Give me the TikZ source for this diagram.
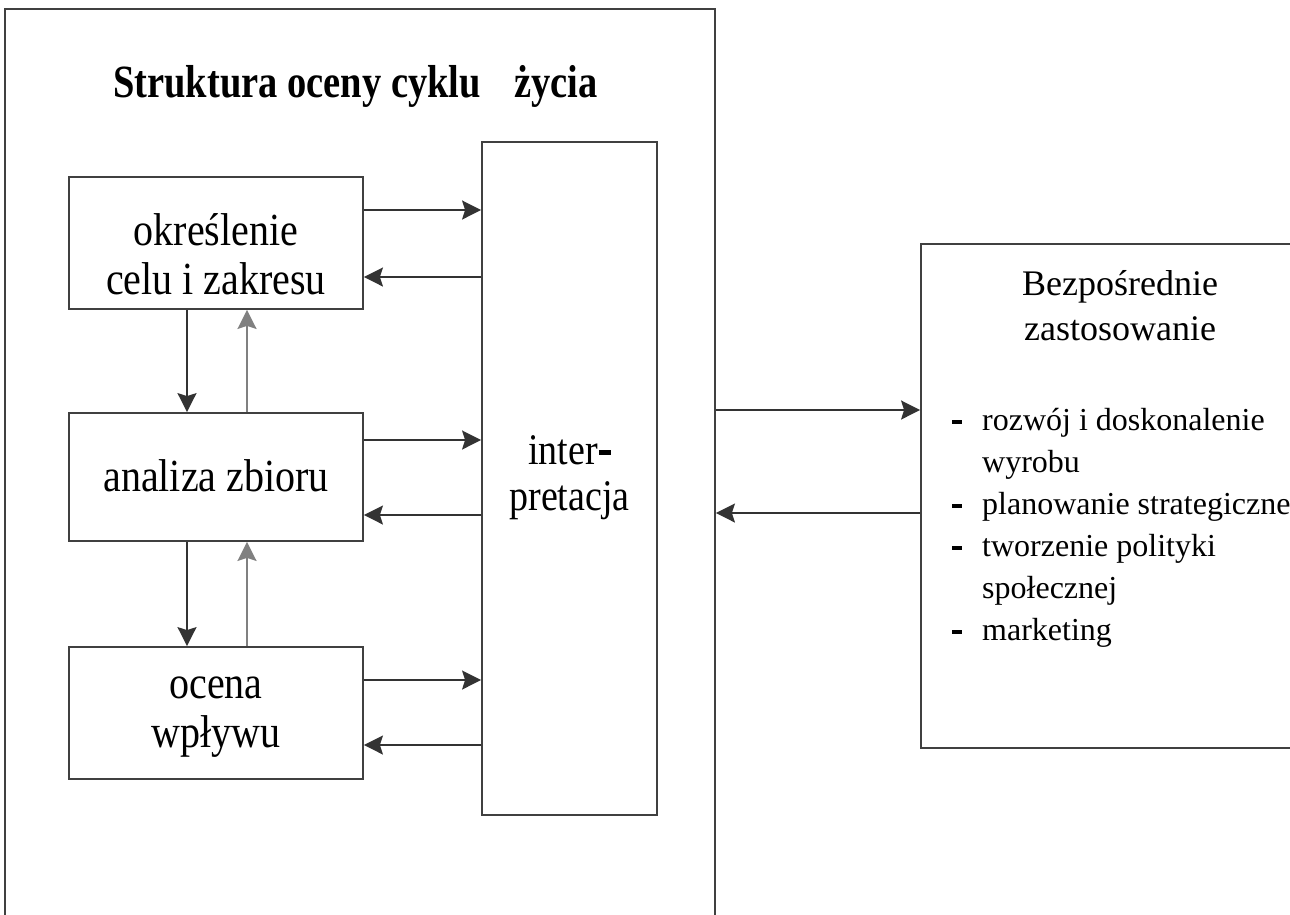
\documentclass[tikz,border=0pt]{standalone}
\usepackage{fontspec}
\usepackage{graphicx}
\setmainfont{Liberation Serif}
\usetikzlibrary{arrows.meta}
\newcommand\vstretch[2]{\scalebox{1}[#1]{\begin{tabular}{@{}c@{}}#2\end{tabular}}}
\newcommand\thickdash{\rule[6.5pt]{10pt}{3.5pt}}
\tikzset{
  box/.style={draw=black!75, line width=1.8pt, inner sep=0pt},
  txt/.style={align=center, inner sep=0pt, font=\fontsize{40}{42.5}\selectfont},
  arr/.style={draw=black!80, line width=1.8pt, -{Stealth[length=19pt,width=19pt,inset=3pt]}},
  arrl/.style={draw=black!50, line width=1.8pt, -{Stealth[length=19pt,width=19pt,inset=3pt]}},
}
\begin{document}
\begin{tikzpicture}[x=1pt,y=-1pt]
\useasboundingbox (0,0) rectangle (1290,914);
\begin{scope}
\clip (0,0) rectangle (1290,914);
\node[box, minimum width=710, minimum height=940] (outer) at (360,479) {};
\node[box, minimum width=400, minimum height=504] (app) at (1121,496) {};
\end{scope}
\node[font=\bfseries\fontsize{38.5}{40}\selectfont, anchor=base, inner sep=0pt] (title) at (355.5,97)
  {\scalebox{1}[1.2]{Struktura oceny cyklu\hspace{0.62em} życia}};
\node[box, minimum width=294, minimum height=132] (b1) at (216,243) {};
\node[box, minimum width=294, minimum height=128] (b2) at (216,477) {};
\node[box, minimum width=294, minimum height=132] (b3) at (216,713) {};
\node[box, minimum width=175, minimum height=673] (int) at (569.5,478.5) {};
\node[txt] (b1t) at ([yshift=-17pt]b1.center) {\vstretch{1.15}{określenie\\celu i zakresu}};
\node[txt] (b2t) at ([yshift=-5pt]b2.center) {\vstretch{1.15}{analiza zbioru}};
\node[txt] (b3t) at (b3.center) {\vstretch{1.15}{ocena\\wpływu}};
\node[txt, font=\fontsize{38}{40}\selectfont] (intt) at (int.center)
  {\vstretch{1.15}{inter\kern1pt\rule[8.5pt]{12pt}{4pt}\\pretacja}};
\node[font=\fontsize{36}{45}\selectfont, align=center, anchor=base, inner sep=0pt] (apph) at (1120,295)
  {\begin{tabular}[t]{@{}c@{}}Bezpośrednie\\zastosowanie\end{tabular}};
\node[font=\fontsize{32}{42}\selectfont, anchor=base west, inner sep=0pt] (list) at (952,430)
 {\begin{tabular}[t]{@{}l@{\hspace{20pt}}l@{}}
 \thickdash & rozwój i doskonalenie\\
    & wyrobu\\
 \thickdash & planowanie strategiczne\\
 \thickdash & tworzenie polityki\\
    & społecznej\\
 \thickdash & marketing
 \end{tabular}};
% horizontal arrows to/from interpretacja
\foreach \b/\ya/\yb in {b1/210/277, b2/440/515, b3/680/745}{
  \draw[arr] (\b.east |- 0,\ya) -- (int.west |- 0,\ya);
  \draw[arr] (int.west |- 0,\yb) -- (\b.east |- 0,\yb);
}
% vertical arrows
\draw[arr] (b1.south -| 187,0) -- (b2.north -| 187,0);
\draw[arrl] (b2.north -| 247,0) -- (b1.south -| 247,0);
\draw[arr] (b2.south -| 187,0) -- (b3.north -| 187,0);
\draw[arrl] (b3.north -| 247,0) -- (b2.south -| 247,0);
% outer to application
\draw[arr] (outer.east |- 0,410) -- (app.west |- 0,410);
\draw[arr] (app.west |- 0,513) -- (outer.east |- 0,513);
\end{tikzpicture}
\end{document}
